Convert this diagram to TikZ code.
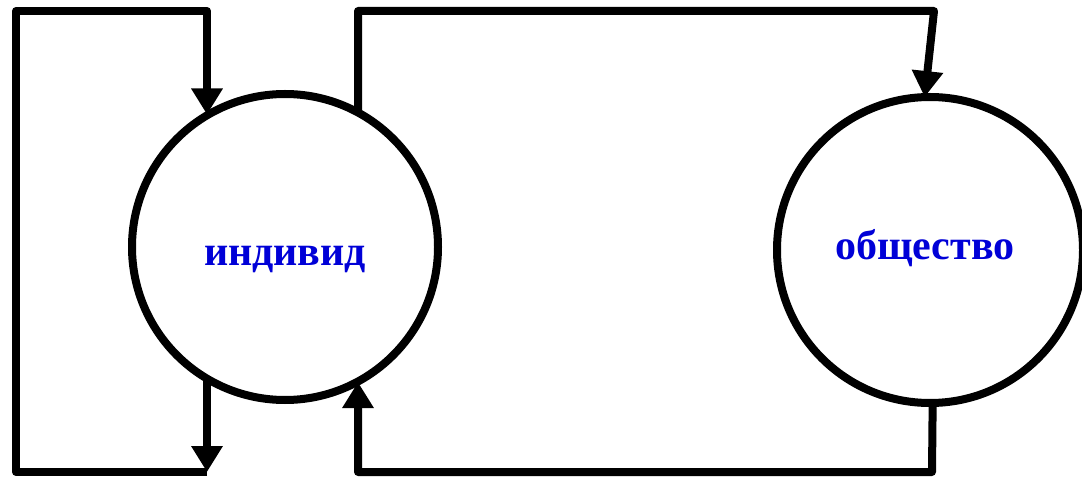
\documentclass[tikz,border=0pt]{standalone}
\usepackage{fontspec}
\setmainfont{Liberation Serif}
\usetikzlibrary{arrows.meta}
\definecolor{txtblue}{RGB}{0,0,215}
\begin{document}
\begin{tikzpicture}[x=1pt,y=-1pt,
  ring/.style={circle,draw,line width=8pt,minimum size=306pt,inner sep=0pt,outer sep=0pt},
  wire/.style={line width=8pt,line join=round},
  arr/.style={wire,-{Triangle[width=30pt,length=26pt]}},
  lab/.style={anchor=base,text=txtblue,font=\fontsize{42}{46}\selectfont\bfseries,inner sep=0pt}]
\useasboundingbox (0,0) rectangle (1082,478);
\node[ring] (ind) at (285,247) {};
\node[ring] (obsh) at (930,250) {};
\node[lab] (indt) at (285,266) {индивид};
\node[lab] (obsht) at (925,260) {общество};
% left loop corners
\coordinate (lt) at (16,11);
\coordinate (rt) at (207,11);
\coordinate (lb) at (16,472);
\coordinate (rb) at (207,472);
% right loop corners
\coordinate (a1) at (358,11);
\coordinate (a2) at (934,11);
\coordinate (b1) at (358,472);
\coordinate (b2) at (932,472);
\draw[arr] (rb |- ind.239.4) -- (rb);
\draw[arr] (rb) -- (lb) -- (lt) -- (rt) -- (rt |- ind.120.6);
\draw[arr] (a1 |- ind.61.5) -- (a1) -- (a2) -- (obsh.92);
\draw[arr] (obsh.271) -- (b2) -- (b1) -- (b1 |- ind.298.5);
\end{tikzpicture}
\end{document}
